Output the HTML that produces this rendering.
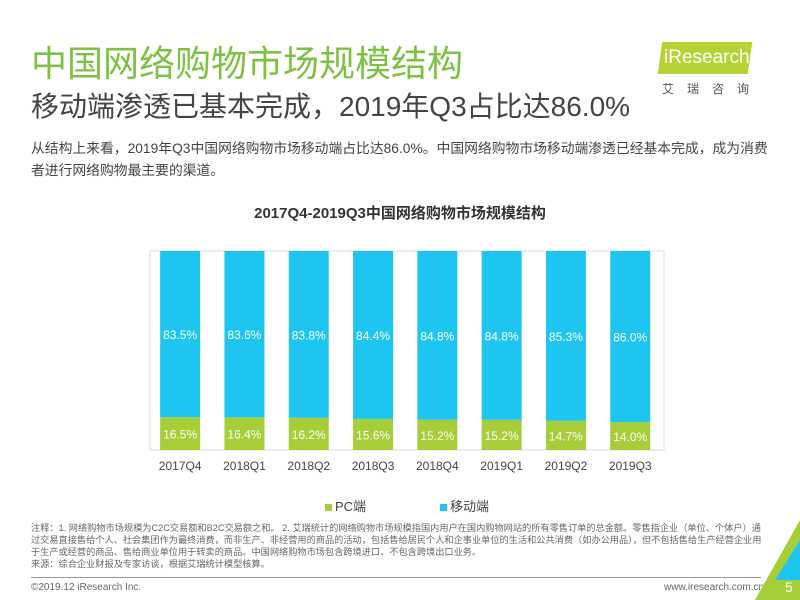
<!DOCTYPE html>
<html><head><meta charset="utf-8"><style>
body{margin:0;width:800px;height:600px;background:#fff;position:relative;overflow:hidden;font-family:"Liberation Sans","Noto Sans CJK SC",sans-serif}
.abs{position:absolute;white-space:nowrap}
</style></head><body>
<div class="abs" style="left:31px;top:42px;font-size:36px;color:#7dc243;line-height:44px">中国网络购物市场规模结构</div>
<div class="abs" style="left:31px;top:89px;font-size:28px;color:#444;line-height:36px">移动端渗透已基本完成，2019年Q3占比达86.0%</div>
<div class="abs" style="left:31px;top:138px;font-size:13.8px;color:#444;line-height:22px;white-space:normal;width:745px">从结构上来看，2019年Q3中国网络购物市场移动端占比达86.0%。中国网络购物市场移动端渗透已经基本完成，成为消费者进行网络购物最主要的渠道。</div>
<div class="abs" style="left:660px;top:42px;width:90px;height:32px;background:#b5d334;transform:skewX(-8deg)"></div>
<div class="abs" style="left:664px;top:46px;font-size:19px;color:#fff;line-height:24px">iResearch</div>
<div class="abs" style="left:662px;top:80px;font-size:12px;color:#555;letter-spacing:13px">艾瑞咨询</div>
<div class="abs" style="left:0;width:800px;text-align:center;top:202px;font-size:15px;font-weight:bold;color:#333">2017Q4-2019Q3中国网络购物市场规模结构</div>
<svg class="abs" style="left:0;top:0" width="800" height="600">
<rect x="150" y="251" width="514" height="199" fill="none" stroke="#ddd"/>
<g id="bars"></g>
</svg>
<div class="abs" style="left:325px;top:496px;font-size:13px;color:#444"><span style="display:inline-block;width:7px;height:7px;background:#a6ce39;margin-right:3px"></span>PC端</div>
<div class="abs" style="left:440px;top:496px;font-size:13px;color:#444"><span style="display:inline-block;width:7px;height:7px;background:#1fc5f1;margin-right:3px"></span>移动端</div>
<div class="abs" style="left:31px;top:522px;width:735px;white-space:normal;font-size:9.2px;color:#666;line-height:12px">注释：1. 网络购物市场规模为C2C交易额和B2C交易额之和。 2. 艾瑞统计的网络购物市场规模指国内用户在国内购物网站的所有零售订单的总金额。零售指企业（单位、个体户）通过交易直接售给个人、社会集团作为最终消费，而非生产、非经营用的商品的活动，包括售给居民个人和企事业单位的生活和公共消费（如办公用品），但不包括售给生产经营企业用于生产或经营的商品、售给商业单位用于转卖的商品。中国网络购物市场包含跨境进口、不包含跨境出口业务。<br>来源：综合企业财报及专家访谈，根据艾瑞统计模型核算。</div>
<div class="abs" style="left:31px;top:577px;width:730px;height:1px;background:#999"></div>
<div class="abs" style="left:31px;top:582px;font-size:10px;color:#666">©2019.12 iResearch Inc.</div>
<div class="abs" style="left:664px;top:582px;font-size:10px;color:#666">www.iresearch.com.cn</div>
<svg class="abs" style="left:755px;top:520px" width="45" height="80"><polygon points="45,0 45,80 0,80" fill="#a6ce39"/><polygon points="45,20 45,60 20,60" fill="#1fc5f1"/><text x="30" y="72" font-size="14" fill="#fff" font-family="Liberation Sans">5</text></svg>
<script>
const categories=["2017Q4","2018Q1","2018Q2","2018Q3","2018Q4","2019Q1","2019Q2","2019Q3"];
const pcValues=[16.5,16.4,16.2,15.6,15.2,15.2,14.7,14.0];
const mobileValues=[83.5,83.6,83.8,84.4,84.8,84.8,85.3,86.0];
const NS="http://www.w3.org/2000/svg";
const g=document.getElementById('bars');
const x0=150,step=64.3,bw=40,yTop=251,yBot=450;
const y=v=>yBot-(v/100)*(yBot-yTop);
function mk(t,a){const e=document.createElementNS(NS,t);for(const k in a)e.setAttribute(k,a[k]);g.appendChild(e);return e;}
categories.forEach((c,i)=>{
 const cx=x0+step*(i+0.5)-2;
 const pcTop=y(pcValues[i]);
 const mTop=y(pcValues[i]+mobileValues[i]);
 const r1=mk('rect',{x:cx-bw/2,y:pcTop,width:bw,height:yBot-pcTop,fill:'#a6ce39'});
 
 
 const r2=mk('rect',{x:cx-bw/2,y:mTop,width:bw,height:pcTop-mTop,fill:'#1fc5f1'});
 
 
 const t1=mk('text',{x:cx,y:(pcTop+yBot)/2+5,'text-anchor':'middle','font-size':12,fill:'#fff'});
 t1.textContent=pcValues[i].toFixed(1)+'%';
 
 
 const t2=mk('text',{x:cx,y:(mTop+pcTop)/2+5,'text-anchor':'middle','font-size':12,fill:'#fff'});
 t2.textContent=mobileValues[i].toFixed(1)+'%';
 
 
 const t3=mk('text',{x:cx,y:470,'text-anchor':'middle','font-size':12,fill:'#444'});
 t3.textContent=c;
 
 
});
</script>
</body></html>
